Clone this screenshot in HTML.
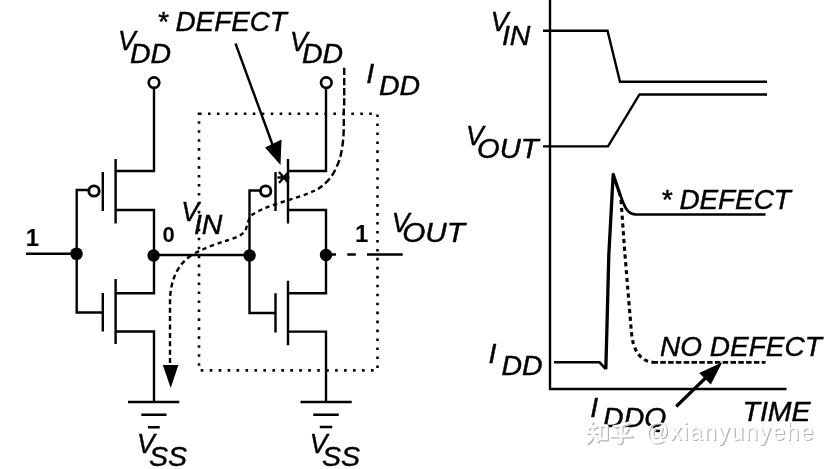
<!DOCTYPE html>
<html><head><meta charset="utf-8">
<style>
html,body{margin:0;padding:0;background:#fff;}
svg{display:block;filter:blur(0.35px);}
text{font-family:"Liberation Sans",sans-serif;fill:#000;}
.it{font-style:italic;font-size:28.5px;stroke:#000;stroke-width:0.45px;}
.b{font-weight:bold;font-size:22px;}
.l{stroke:#000;stroke-width:2.4;fill:none;}
</style></head><body>
<svg width="835" height="469" viewBox="0 0 835 469">
<rect width="835" height="469" fill="#fff"/>
<!-- inverter 1 -->
<g class="l">
<path d="M154 89V171H115.6M115.6 159V223.5M115.6 210H154V293.2H115.6M115.6 279V344M115.6 331.5H154V402"/>
<path d="M102.8 172V211M102.8 293V331.5"/>
<path d="M26 253.8H76.7M88 190H76.7V312.5H102.8"/>
<path d="M154 255H249.5"/>
<circle cx="94" cy="191" r="5.2" fill="#fff" stroke-width="2.8"/>
<circle cx="154" cy="82.6" r="5.3" fill="#fff" stroke-width="2.7"/>
<path d="M128 402H179.3M141.3 414.7H166.5M148 427.3H159.7"/>
</g>
<circle cx="76.5" cy="253.8" r="6.3"/>
<circle cx="153.6" cy="255.5" r="6.2"/>
<!-- inverter 2 -->
<g class="l">
<path d="M326 89V171H288M288 159V223.5M288 210H326V293.2H288M288 280.7V345.2M288 331.6H326V402"/>
<path d="M275.5 172V211M275.5 293.2V332.4"/>
<path d="M260 190.5H249.5V313H275.5"/>
<circle cx="265.7" cy="191" r="5.2" fill="#fff" stroke-width="2.8"/>
<circle cx="326.3" cy="82.6" r="5.3" fill="#fff" stroke-width="2.7"/>
<path d="M300.5 402H351.7M313.2 414.7H338.8M319.8 427H332.2"/>
<path d="M326 254.5H336M347.3 254.5H355.8M367 254.5H402.7"/>
</g>
<circle cx="249.6" cy="255.5" r="6.2"/>
<circle cx="326" cy="255" r="6.2"/>
<!-- dotted rect -->
<rect x="199" y="113.8" width="178.5" height="256.6" fill="none" stroke="#000" stroke-width="2.6" stroke-dasharray="2.6 6.36"/>
<!-- IDD dashed path -->
<path class="l" stroke-dasharray="7.3 2.9" stroke-width="2.7" d="M344.2 67.7V108"/>
<path class="l" stroke-dasharray="7 3.4" stroke-width="3.4" d="M343.8 108.5V127C343.6 142 341.5 157 337 166C333 176 327 183 318 189"/>
<path class="l" stroke-dasharray="4.3 3.7" stroke-width="3.3" d="M315 190.5C304 195.5 291 199.4 279 203C268 206.5 258 210.5 252 215C248 219 247.5 224.5 245.5 230.5C242 236 232 239 227 240.5C215 244 200 250 191 255.5"/>
<path class="l" stroke-dasharray="5 3.4" stroke-width="3.7" d="M191 255.5C180 263 170.5 277 170 300V365"/>
<path d="M162.8 365H178.4L170.7 388Z"/>
<!-- defect arrow -->
<path class="l" stroke-width="3.3" d="M235.5 43.5L273 146"/>
<path d="M280.5 165L265 147.5L281.5 139.5Z"/>
<!-- asterisk at defect -->
<path class="l" stroke-width="1.8" d="M277.5 177.5H289.5M279 172L288.5 183M288.5 172L279 183"/>
<!-- text left -->
<text class="it" x="156.9" y="30.5" textLength="130" lengthAdjust="spacingAndGlyphs">* DEFECT</text>
<text class="it" x="117.9" y="50" textLength="17.7" lengthAdjust="spacingAndGlyphs">V</text><text class="it" x="130" y="62.5">DD</text>
<text class="it" x="290.0" y="50.5" textLength="17.7" lengthAdjust="spacingAndGlyphs">V</text><text class="it" x="302" y="62.9">DD</text>
<text class="it" x="366.3" y="83.3">I</text><text class="it" x="379" y="94.6">DD</text>
<text class="it" x="181.2" y="220.5" textLength="17.7" lengthAdjust="spacingAndGlyphs">V</text><text class="it" x="193.9" y="234">IN</text>
<text class="it" x="391.7" y="231.6" textLength="17.7" lengthAdjust="spacingAndGlyphs">V</text><text class="it" x="402.2" y="242" textLength="62.8" lengthAdjust="spacingAndGlyphs">OUT</text>
<text class="it" x="137.1" y="453" textLength="17.7" lengthAdjust="spacingAndGlyphs">V</text><text class="it" x="149" y="465.6">SS</text>
<text class="it" x="309.7" y="453" textLength="17.7" lengthAdjust="spacingAndGlyphs">V</text><text class="it" x="321.9" y="465.6">SS</text>
<text class="b" x="25.7" y="246" style="font-size:24px">1</text>
<text class="b" x="162.6" y="242.2">0</text>
<text class="b" x="355" y="242" style="font-size:24px">1</text>
<!-- chart -->
<g class="l">
<path d="M550 0V389H786.5"/>
<path d="M543 30.7H607.5L620 81.8H767"/>
<path d="M543 146.4H608L639.5 94.5H767"/>
<path stroke-width="2.6" d="M554 362.3H599.5L605.6 368.8"/>
<path stroke-width="3.3" stroke-linejoin="round" d="M605.8 369.3L606.8 333L608.8 255L613.2 174.5L620.5 196"/>
<path stroke-width="2.7" d="M619.5 193.5L621 197C625 208 628 214.5 636 214.5H765.5"/>
<path stroke-dasharray="4.2 3.6" stroke-width="3.1" d="M621 200L624.6 250L628 291.6L631.5 333C633 350 640 361 653 362.3"/>
<path stroke-dasharray="5.5 2.3" stroke-width="2.6" d="M652.5 362.4H765.5"/>
<path stroke-width="3.2" d="M676.2 406.5L706 377.5"/>
</g>
<path d="M722.3 362.2L699.2 373L710.8 384.5Z"/>
<text class="it" x="490.7" y="30.7" textLength="17.7" lengthAdjust="spacingAndGlyphs">V</text><text class="it" x="501.9" y="44.8">IN</text>
<text class="it" x="466" y="144.5" textLength="17.7" lengthAdjust="spacingAndGlyphs">V</text><text class="it" x="477" y="157.8" textLength="61.5" lengthAdjust="spacingAndGlyphs">OUT</text>
<text class="it" x="660.8" y="209.2" textLength="130" lengthAdjust="spacingAndGlyphs">* DEFECT</text>
<text class="it" x="660.1" y="356.3" textLength="161.7" lengthAdjust="spacingAndGlyphs">NO DEFECT</text>
<text class="it" x="488.6" y="363">I</text><text class="it" x="501.5" y="374.6">DD</text>
<text class="it" x="590.3" y="417">I</text><text class="it" x="603.1" y="427">DDQ</text>
<text class="it" x="742.5" y="421">TIME</text>
<!-- watermark -->
<g id="wm">
<g transform="translate(1.2,1.2)" stroke="#b4b4b4" fill="#b4b4b4">
<g fill="none" stroke-width="2.7" stroke-linecap="round" stroke-linejoin="round">
<g transform="translate(586.5,421)"><path d="M5.5 1L2.5 7M3.5 5.5H10M1 11.5H11M6.3 5.5V11.5C6.3 15 4.5 19 1 21.5M6.5 12.5L11 20M13.5 4.5H20V18H13.5Z"/></g>
<g transform="translate(610,421)"><path d="M18 2C13 4 8 5 3.5 5.5M5 8.5L7 12.5M17.5 7.5L14.5 12.5M1 15H21.5M11.2 5V20C11.2 22 9 22 7 21"/></g>
</g>
<text x="645.5" y="439.5" font-size="23" letter-spacing="1.4" stroke="none" style="fill:#b4b4b4">@xianyunyehe</text>
</g>
<g stroke="#fff" fill="#fff">
<g fill="none" stroke-width="2.7" stroke-linecap="round" stroke-linejoin="round">
<g transform="translate(586.5,421)"><path d="M5.5 1L2.5 7M3.5 5.5H10M1 11.5H11M6.3 5.5V11.5C6.3 15 4.5 19 1 21.5M6.5 12.5L11 20M13.5 4.5H20V18H13.5Z"/></g>
<g transform="translate(610,421)"><path d="M18 2C13 4 8 5 3.5 5.5M5 8.5L7 12.5M17.5 7.5L14.5 12.5M1 15H21.5M11.2 5V20C11.2 22 9 22 7 21"/></g>
</g>
<text x="645.5" y="439.5" font-size="23" letter-spacing="1.4" stroke="none" style="fill:#fff">@xianyunyehe</text>
</g>
</g>
</svg>
</body></html>
